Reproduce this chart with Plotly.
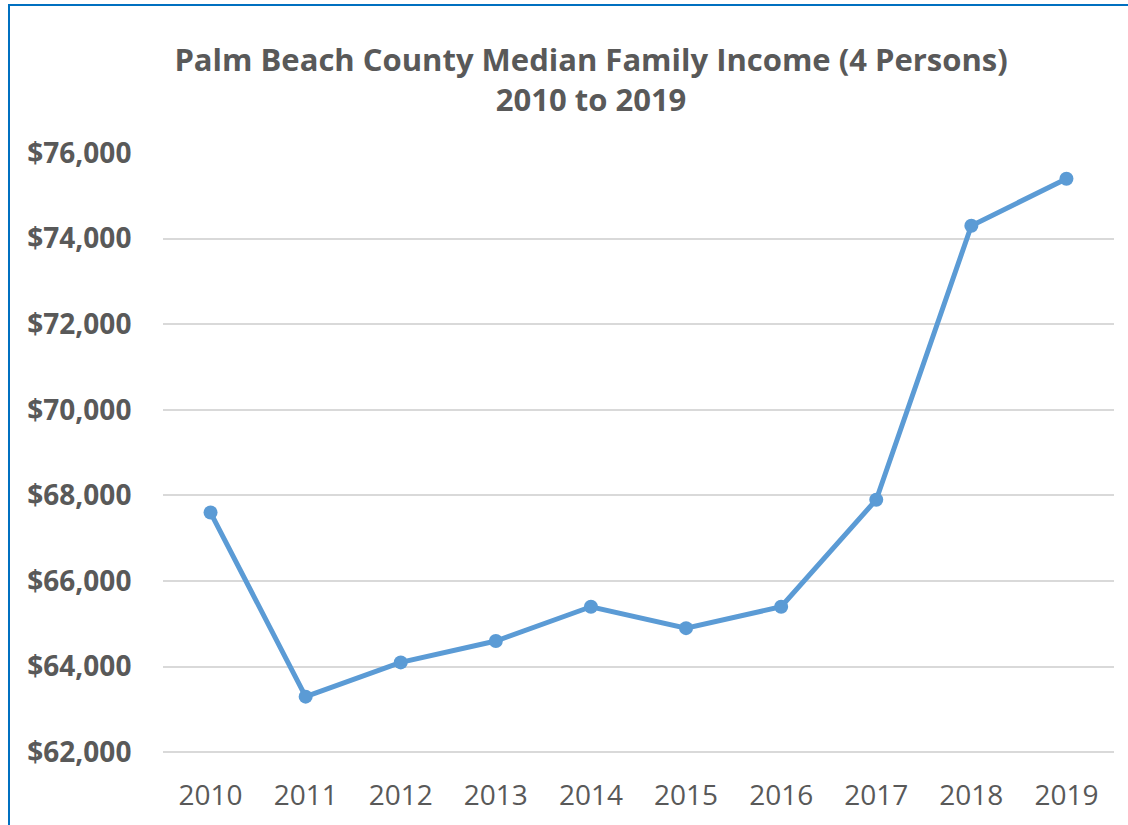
import plotly.graph_objects as go

years = ["2010", "2011", "2012", "2013", "2014", "2015", "2016", "2017", "2018", "2019"]
income = [67600, 63300, 64100, 64600, 65400, 64900, 65400, 67900, 74300, 75400]
y_ticks = [62000, 64000, 66000, 68000, 70000, 72000, 74000, 76000]

grey = "#595959"
blue = "#5B9BD5"

fig = go.Figure()
fig.add_trace(
    go.Scatter(
        x=years,
        y=income,
        mode="lines+markers",
        line=dict(color=blue, width=5),
        marker=dict(color=blue, size=14),
        showlegend=False,
    )
)

fig.update_layout(
    width=1128,
    height=825,
    paper_bgcolor="white",
    plot_bgcolor="white",
    margin=dict(l=163, r=14, t=153, b=71),
    font=dict(family="Open Sans", color=grey),
    title=dict(
        text="<b>Palm Beach County Median Family Income (4 Persons)<br>2010 to 2019</b>",
        x=0.524,
        xanchor="center",
        y=0.914,
        yanchor="top",
        font=dict(size=31, color=grey),
    ),
    xaxis=dict(
        type="category",
        range=[-0.5, len(years) - 0.5],
        showgrid=False,
        showline=False,
        ticks="outside",
        ticklen=16,
        tickcolor="rgba(0,0,0,0)",
        tickfont=dict(size=28, color=grey),
    ),
    yaxis=dict(
        # small pad below so the $62,000 gridline is still drawn
        range=[61960, 76000],
        tickvals=y_ticks,
        ticktext=["<b>$%s</b>" % format(v, ",") for v in y_ticks],
        showgrid=True,
        gridcolor="#D9D9D9",
        gridwidth=2,
        zeroline=False,
        ticks="outside",
        ticklen=25,
        tickcolor="rgba(0,0,0,0)",
        tickfont=dict(size=28, color=grey),
    ),
    shapes=[
        dict(
            type="rect",
            xref="paper",
            yref="paper",
            x0=-154 / 951,
            x1=1.05,
            y0=-0.2,
            y1=749 / 601,
            line=dict(color="#0070C0", width=2),
        )
    ],
)

fig.write_html(
    "out.html",
    config={"displayModeBar": False},
    post_script="document.body.style.margin='0px';",
)
